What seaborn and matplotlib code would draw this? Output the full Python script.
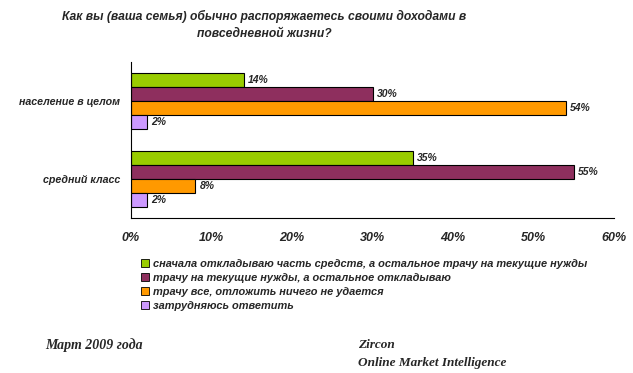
import matplotlib
matplotlib.use("Agg")
import matplotlib.pyplot as plt
import pandas as pd
import seaborn as sns
from matplotlib.patches import Patch

# ── Data ────────────────────────────────────────────────────────────────
groups = ["население в целом", "средний класс"]
answers = [
    "сначала откладываю часть средств, а остальное трачу на текущие нужды",
    "трачу на текущие нужды, а остальное откладываю",
    "трачу все, отложить ничего не удается",
    "затрудняюсь ответить",
]
values_total = [14, 30, 54, 2]
values_middle = [35, 55, 8, 2]
x_ticks = [0, 10, 20, 30, 40, 50, 60]
colors = ["#99CC00", "#8E2F5E", "#FF9900", "#CC99FF"]

df = pd.DataFrame({
    "group": [groups[0]] * 4 + [groups[1]] * 4,
    "answer": answers * 2,
    "value": values_total + values_middle,
})

sns.set_style("white")
plt.rcParams["font.family"] = ["Liberation Sans", "DejaVu Sans"]

fig = plt.figure(figsize=(6.33, 3.73), dpi=100)
ax = fig.add_axes([131 / 633, 1 - 218 / 373, 483 / 633, 156 / 373])

sns.barplot(
    data=df, y="group", x="value", hue="answer", hue_order=answers,
    palette=colors, saturation=1, orient="h", width=0.72, ax=ax,
    edgecolor="black", linewidth=0.8, legend=False,
)

for cont in ax.containers:
    ax.bar_label(
        cont, labels=[f"{int(v)}%" for v in cont.datavalues], padding=3,
        fontsize=7.5, fontweight="bold", fontstyle="italic",
    )

ax.set_xlim(0, 60)
ax.set_ylim(1.5, -0.5)
ax.set_xticks(x_ticks)
ax.set_xticklabels([f"{t}%" for t in x_ticks], fontsize=9, fontweight="bold",
                   fontstyle="italic")
ax.set_yticks([0, 1])
ax.set_yticklabels(groups, fontsize=7.7, fontweight="bold", fontstyle="italic")
ax.set_yticks([-0.5, 0.5, 1.5], minor=True)
ax.tick_params(axis="y", which="major", length=0, pad=8)
ax.tick_params(axis="y", which="minor", length=4, width=0.8, direction="out")
ax.tick_params(axis="x", length=4, width=0.8, direction="out", pad=6)
ax.set_xlabel("")
ax.set_ylabel("")
for side in ["top", "right"]:
    ax.spines[side].set_visible(False)
for side in ["left", "bottom"]:
    ax.spines[side].set_color("black")
    ax.spines[side].set_linewidth(0.8)

fig.text(264 / 633, 1 - 25 / 373,
         "Как вы (ваша семья) обычно распоряжаетесь своими доходами в\nповседневной жизни?",
         ha="center", va="center", fontsize=8.7, fontweight="bold",
         fontstyle="italic", linespacing=1.45)

handles = [Patch(facecolor=c, edgecolor="black", linewidth=0.6) for c in colors]
fig.legend(handles, answers, loc="upper left",
           bbox_to_anchor=(141 / 633, 1 - 259 / 373), frameon=False,
           handlelength=0.7, handleheight=0.7, handletextpad=0.4,
           labelspacing=0.35, borderpad=0, borderaxespad=0,
           prop={"style": "italic", "weight": "bold", "size": 7.9})

fig.text(45 / 633, 1 - 345 / 373, "Март 2009 года", family="Liberation Serif",
         fontsize=10, fontweight="bold", fontstyle="italic", va="center")
fig.text(358 / 633, 1 - 345 / 373, "Zircon", family="Liberation Serif",
         fontsize=9.5, fontweight="bold", fontstyle="italic", va="center")
fig.text(358 / 633, 1 - 363 / 373, "Online Market Intelligence",
         family="Liberation Serif", fontsize=9.5, fontweight="bold",
         fontstyle="italic", va="center")

fig.savefig("out.png", dpi=100)
plt.close(fig)
